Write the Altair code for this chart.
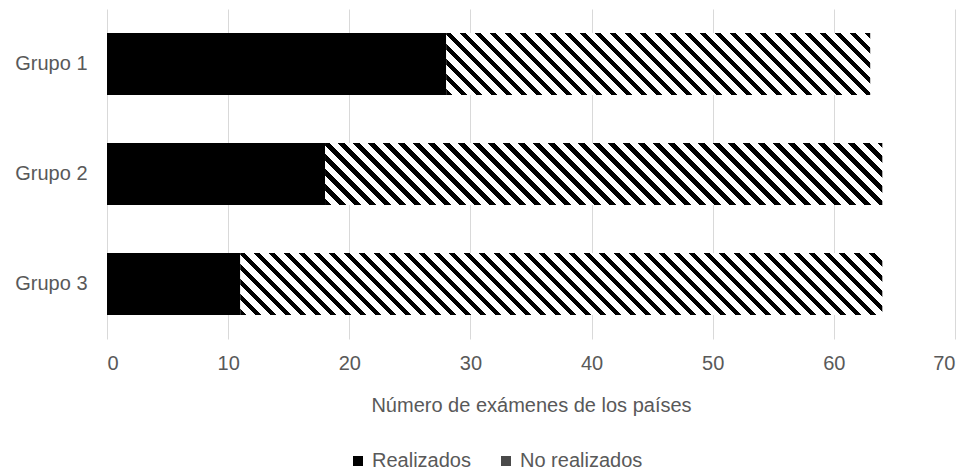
import altair as alt
import pandas as pd

grupos = ["Grupo 1", "Grupo 2", "Grupo 3"]
realizados = [28, 18, 11]
no_realizados = [35, 46, 53]
series = ["Realizados", "No realizados"]
x_ticks = [0, 10, 20, 30, 40, 50, 60, 70]

PLOT_W = 848
PLOT_H = 330
PAD_IN = 0.435
X_MAX = 70
FONT = "Liberation Sans"
TXT = "#595959"

rows = []
for g, r, n in zip(grupos, realizados, no_realizados):
    rows.append({"grupo": g, "serie": series[0], "valor": r, "inicio": 0, "fin": r})
    rows.append({"grupo": g, "serie": series[1], "valor": n, "inicio": r, "fin": r + n})
df = pd.DataFrame(rows)

step = PLOT_H / len(grupos)
bar_h = step * (1 - PAD_IN)


def stripe_gradient(width_px, height_px, period=15.0, black_frac=0.42):
    r = height_px / width_px
    k = (1 + r) / (1 + r * r)
    total = width_px + height_px
    p = period / total
    stops = []
    i = 0
    while i * p < 1:
        a = i * p
        b = min(1.0, a + black_frac * p)
        c = min(1.0, (i + 1) * p)
        stops += [
            {"offset": round(a, 6), "color": "#000000"},
            {"offset": round(b, 6), "color": "#000000"},
            {"offset": round(b, 6), "color": "#ffffff"},
            {"offset": round(c, 6), "color": "#ffffff"},
        ]
        i += 1
    return {
        "gradient": "linear",
        "x1": 0, "y1": 1,
        "x2": round(k, 6), "y2": round(1 - k * r, 6),
        "stops": stops,
    }


x_enc = alt.X(
    "inicio:Q",
    scale=alt.Scale(domain=[0, X_MAX], nice=False),
    axis=alt.Axis(
        values=x_ticks,
        title="Número de exámenes de los países",
        grid=True,
        gridColor="#d9d9d9",
        domain=False,
        ticks=False,
        labelPadding=14,
        titlePadding=22,
    ),
)
y_enc = alt.Y(
    "grupo:N",
    sort=grupos,
    scale=alt.Scale(paddingInner=PAD_IN, paddingOuter=PAD_IN / 2),
    axis=alt.Axis(title=None, domain=False, ticks=False, grid=False, labelPadding=20),
)

base = alt.Chart(df)

layer_real = base.transform_filter(alt.datum.serie == series[0]).mark_bar(
    strokeWidth=0
).encode(
    x=x_enc,
    x2="fin:Q",
    y=y_enc,
    fill=alt.Fill(
        "serie:N",
        scale=alt.Scale(domain=series, range=["#000000", "#4a4a4a"]),
        legend=alt.Legend(
            title=None,
            orient="none",
            legendX=241,
            legendY=442,
            direction="horizontal",
            symbolType="square",
            symbolSize=100,
            symbolStrokeWidth=0,
            labelFontSize=20,
            labelFont=FONT,
            labelColor=TXT,
            labelOffset=4,
            columnPadding=25,
        ),
    ),
)

layers = [layer_real]
for g, r, n in zip(grupos, realizados, no_realizados):
    w_px = n * PLOT_W / X_MAX
    grad = stripe_gradient(w_px, bar_h)
    lay = base.transform_filter(
        (alt.datum.serie == series[1]) & (alt.datum.grupo == g)
    ).mark_bar(fill=grad, strokeWidth=0).encode(
        x=x_enc,
        x2="fin:Q",
        y=y_enc,
    )
    layers.append(lay)

chart = alt.layer(*layers).properties(
    width=PLOT_W,
    height=PLOT_H,
    autosize=alt.AutoSizeParams(type="none"),
    padding={"left": 99, "top": 1, "right": 8, "bottom": 133},
).configure_view(stroke=None).configure_axis(
    labelFont=FONT,
    titleFont=FONT,
    labelFontSize=20,
    titleFontSize=20,
    labelColor=TXT,
    titleColor=TXT,
    titleFontWeight="normal",
)

chart.save("out.html", embed_options={"renderer": "svg", "actions": False})
